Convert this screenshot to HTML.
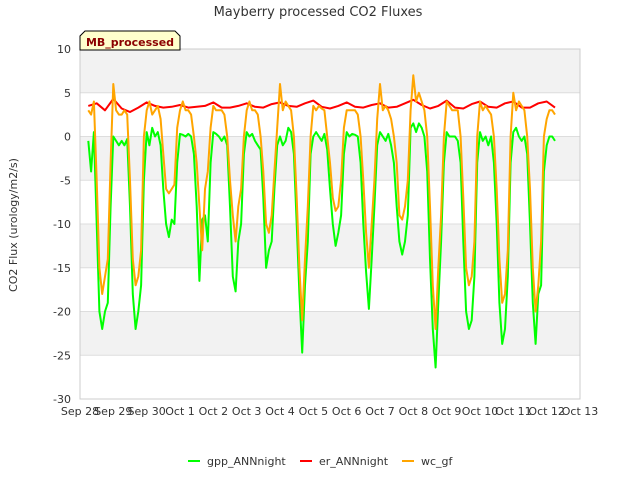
<!DOCTYPE html>
<html><head><meta charset="utf-8"><style>
body{margin:0;background:#fff;}
svg{display:block;font-family:"DejaVu Sans","Liberation Sans",sans-serif;}
</style></head><body>
<svg id="chart" width="640" height="480">
<text x="318" y="16" text-anchor="middle" font-size="13" fill="#333">Mayberry processed CO2 Fluxes</text>
<text transform="translate(17,225) rotate(-90)" text-anchor="middle" font-size="11" fill="#333">CO2 Flux (urology/m2/s)</text>
<g id="plot"></g>
<g>
<path d="M80,50 L80,36 L85,31 L175,31 L180,36 L180,50 Z" fill="#ffffcc" stroke="#000" stroke-width="1"/>
<text x="130" y="46" text-anchor="middle" font-size="11" font-weight="bold" fill="#8b0000">MB_processed</text>
</g>
<g id="legend"></g>
</svg>
<script>
const NS="http://www.w3.org/2000/svg";
// data: 2-hour samples, day index + hour
const startHourGpp=6;
const gppVals=[
-0.5,-4,0.5,-10,-20,-22,-20,-19,-8,
0,-0.5,-1,-0.5,-1,-0.3,-8,-18,-22,-20,-17,-5,
0.5,-1,1,0,0.5,-1,-6,-10,-11.5,-9.5,-10,-3,
0.3,0.2,0,0.3,0,-2,-8,-16.5,-9.5,-9,-12,-3,
0.5,0.3,0,-0.5,0,-1,-8,-16,-17.7,-12,-10,-2,
0.5,0,0.3,-0.5,-1,-1.5,-7,-15,-13,-12,-6,-1,
0,-1,-0.5,1,0.5,-2,-10,-18,-24.7,-17,-12,-2,
0,0.5,0,-0.5,0.3,-1.5,-6,-10,-12.5,-11,-9,-2,
0.5,0,0.3,0.2,0,-3,-10,-15.5,-19.7,-14,-8,-1,
0.5,0,-0.5,0.3,-1,-3,-8,-12,-13.5,-12,-9,1,
1.5,0.5,1.5,1,0,-4,-14,-22,-26.4,-19,-12,-3,
0.5,0,0,0,-0.5,-3,-12,-20,-22,-21,-16,-3,
0.5,-0.5,0,-1,0,-3,-10,-19,-23.7,-22,-16,-3,
0.5,1,0,-0.5,0,-2,-10,-19,-23.7,-18,-17,-4,
-1,0,0,-0.5];
const wcVals=[
3,2.5,4,-5,-15,-18,-16,-14,-3,
6,3,2.5,2.5,3,2.5,-5,-14,-17,-16,-13,0,
3,4,2.5,3,3.5,2,-2,-6,-6.5,-6,-5.5,1,
3,4,3,3,2.5,0,-3,-8,-13,-6,-4,1,
3.5,3,3,3,2.5,0,-5,-9,-12,-8,-6,0,
3,4,3,3,2.5,0,-4,-10,-11,-9,-4,1,
6,3,4,3.5,3,0,-7,-15,-21,-14,-8,0,
3.5,3,3.5,3.2,3,0,-3,-7,-8.5,-8,-5,1,
3,3,3,3,2.5,0,-5,-11,-15,-10,-5,2,
6,3,3.5,3,2,0,-3,-9,-9.5,-8,-5,3,
7,4,5,4,3,0,-8,-17,-22,-15,-9,0,
4,3.5,3,3,3,0,-7,-15,-17,-16,-12,0,
4,3,3.5,3,2.5,0,-6,-14,-19,-18,-13,0,
5,3,4,3.5,3,0,-6,-15,-20,-17,-12,0,
2,3,3,2.5];
// er: 6-hour samples from hour 6 of Sep 28
const startHourEr=6;
const erVals=[
3.5,3.8,3.0,
4.3,3.2,2.8,3.3,
3.9,3.5,3.3,3.4,
3.6,3.3,3.4,3.5,
3.9,3.3,3.3,3.5,
3.8,3.4,3.3,3.7,
3.9,3.5,3.4,3.8,
4.1,3.4,3.2,3.5,
3.9,3.4,3.3,3.6,
3.8,3.3,3.4,3.8,
4.2,3.6,3.2,3.5,
4.1,3.3,3.2,3.7,
4.0,3.4,3.3,3.8,
4.0,3.3,3.3,3.8,
4.0,3.3];
const xTicks=["Sep 28","Sep 29","Sep 30","Oct 1","Oct 2","Oct 3","Oct 4","Oct 5","Oct 6","Oct 7","Oct 8","Oct 9","Oct 10","Oct 11","Oct 12","Oct 13"];
const yTicks=[10,5,0,-5,-10,-15,-20,-25,-30];
const L=80,R=580,T=49,B=399;
const xS=d=>L+d*(R-L)/15;
const yS=v=>T+(10-v)*(B-T)/40;
const plot=document.getElementById('plot');
function mk(tag,attrs,parent){const e=document.createElementNS(NS,tag);for(const k in attrs)e.setAttribute(k,attrs[k]);(parent||plot).appendChild(e);return e;}
const bg=mk('rect',{x:L,y:T,width:R-L,height:B-T,fill:'#fff'});


for(let i=0;i<yTicks.length-1;i++){
  if(i%2===0){const band=mk('rect',{x:L,y:yS(yTicks[i]),width:R-L,height:yS(yTicks[i+1])-yS(yTicks[i]),fill:'#f2f2f2'});
  
  }
}
yTicks.forEach(v=>{
  const g=mk('line',{x1:L,x2:R,y1:yS(v),y2:yS(v),stroke:'#ddd','stroke-width':1});
  
  
  const t=mk('text',{x:L-9,y:yS(v)+4,'text-anchor':'end','font-size':11,fill:'#333'});
  t.textContent=v;
  
  
});
xTicks.forEach((s,i)=>{
  const t=mk('text',{x:xS(i),y:B+16,'text-anchor':'middle','font-size':11,fill:'#333'});
  t.textContent=s;
  
  
});
const frame=mk('rect',{x:L,y:T,width:R-L,height:B-T,fill:'none',stroke:'#ccc'});


function series(vals,startH,stepH,color,name){
  const pts=vals.map((v,i)=>xS((startH+i*stepH)/24).toFixed(1)+','+yS(v).toFixed(1)).join(' ');
  const p=mk('polyline',{points:pts,fill:'none',stroke:color,'stroke-width':2,'stroke-linejoin':'round'});
  
  
}
series(gppVals,startHourGpp,2,'#00ff00','gpp-annnight-line');
series(erVals,startHourEr,6,'#ff0000','er-annnight-line');
series(wcVals,startHourGpp,2,'#ffa500','wc-gf-line');
const leg=document.getElementById('legend');
[["gpp_ANNnight","#00ff00",188],["er_ANNnight","#ff0000",300],["wc_gf","#ffa500",402]].forEach(([n,c,x])=>{
  const l=mk('line',{x1:x,x2:x+12,y1:461,y2:461,stroke:c,'stroke-width':2},leg);
  
  
  const t=mk('text',{x:x+19,y:465,'font-size':11,fill:'#333'},leg);
  t.textContent=n;
  
  
});
</script>
</body></html>
